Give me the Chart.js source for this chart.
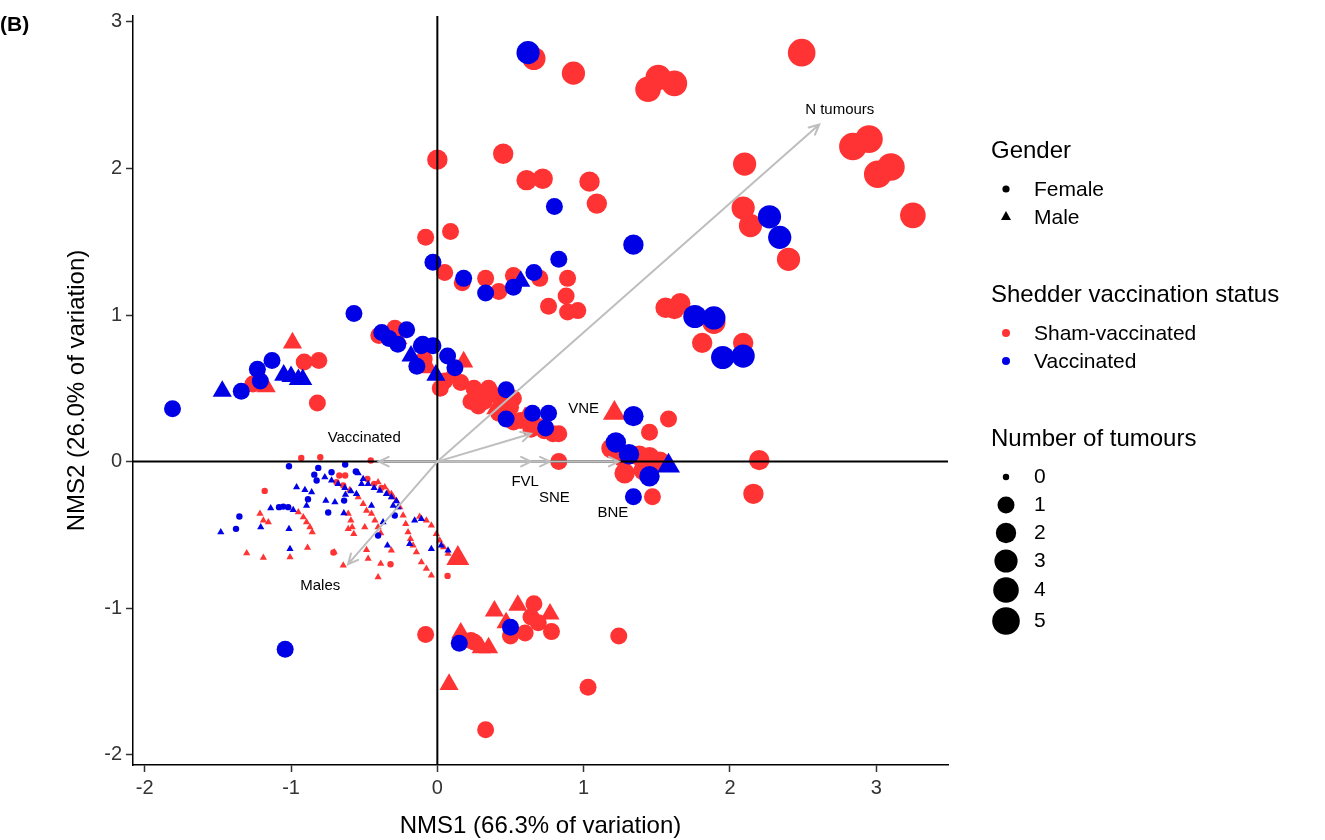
<!DOCTYPE html>
<html lang="en">
<head>
<meta charset="UTF-8" />
<title>NMS ordination (B)</title>
<script src="https://cdn.jsdelivr.net/npm/chart.js"></script>
<style>
  body { margin:0; background:#fff; }
  #wrap { position:relative; width:1325px; height:840px; }
</style>
</head>
<body>
<div id="wrap"><canvas id="nms" width="1325" height="840"></canvas></div>
<script>
  // [NMS1, NMS2, number of tumours]
  const shamFemale = [
    [0.66,2.75,3],[0.93,2.65,3],[1.44,2.54,4],[1.51,2.62,4],[1.62,2.58,4],[2.49,2.79,5],
    [2.84,2.15,5],[2.95,2.20,5],[3.01,1.96,5],[3.10,2.01,5],[3.25,1.68,4],[2.10,2.03,3],
    [2.09,1.73,3],[2.14,1.61,3],[2.40,1.38,3],[0.00,2.06,2],[0.45,2.10,2],[0.61,1.92,2],
    [0.72,1.93,2],[1.04,1.91,2],[1.09,1.76,2],[-0.08,1.53,1],[0.09,1.57,1],
    [0.05,1.29,1],[0.17,1.22,1],[0.33,1.25,1],[0.42,1.16,1],[0.52,1.27,1],[0.70,1.25,1],
    [0.89,1.25,1],[0.88,1.13,1],[0.76,1.06,1],[0.89,1.02,1],[0.96,1.03,1],
    [1.56,1.05,2],[1.62,1.04,2],[1.66,1.08,2],[1.89,0.95,3],[1.81,0.81,2],[2.09,0.81,2],
    [2.20,0.01,2],[2.16,-0.22,2],
    [1.58,0.29,1],[1.45,0.20,1],[1.19,0.09,2],[1.27,0.03,2],[1.38,0.04,2],[1.45,0.03,2],
    [1.28,-0.08,2],[1.41,-0.06,2],[1.47,-0.24,1],[0.83,0.00,1],[1.52,0.00,2],
    [-0.91,0.68,1],[-0.81,0.69,1],[-1.26,0.53,1],[-0.82,0.40,1],
    [-0.40,0.86,1],[-0.29,0.91,1],[-0.09,0.70,1],[0.05,0.55,1],[0.16,0.54,1],[0.25,0.50,1],
    [0.35,0.50,1],[0.23,0.41,1],[0.32,0.41,1],[0.44,0.43,1],[0.52,0.43,1],[0.50,0.37,1],
    [0.42,0.33,1],[0.57,0.28,1],[0.52,0.27,1],[0.69,0.24,1],[0.79,0.19,1],[0.83,0.19,1],
    [0.64,0.22,1],[0.73,0.21,1],[0.02,0.50,1],[0.38,0.46,1],[0.28,0.38,1],
    [0.66,-0.97,1],[0.64,-1.06,1],[0.69,-1.10,1],[0.50,-1.19,1],[0.60,-1.17,1],[0.78,-1.16,1],
    [0.25,-1.23,1],[1.24,-1.19,1],[1.03,-1.54,1],[0.33,-1.83,1],[-0.08,-1.18,1],[0.23,-1.22,1],
    [-0.93,0.025,0],[-0.80,0.03,0],[-0.455,0.007,0],[-1.18,-0.20,0],[-0.67,-0.095,0],[-0.63,-0.095,0],
    [-0.71,-0.62,0],[-0.32,-0.70,0],[0.07,-0.78,0],[-0.478,-0.118,0],[-0.432,-0.152,0],
    [-0.382,-0.179,0],[-0.689,-0.141,0],[-0.643,-0.163,0]
  ];
  const shamMale = [
    [1.21,0.33,2],[-0.99,0.81,1],[-1.17,0.51,1],[-0.27,0.84,1],[-0.06,0.64,1],[0.18,0.68,1],
    [0.10,0.60,1],[0.30,0.45,1],[0.40,0.36,1],[0.60,0.30,1],
    [0.39,-1.02,1],[0.55,-0.98,1],[0.77,-1.04,1],[0.47,-1.10,1],[0.30,-1.27,1],[0.35,-1.27,1],
    [0.16,-1.17,1],[0.08,-1.52,1],[0.14,-0.66,2],
    [-0.405,-0.141,0],[-0.359,-0.175,0],[-0.314,-0.220,0],[-0.280,-0.266,0],[-0.257,-0.311,0],
    [-0.234,-0.368,0],[-0.216,-0.425,0],[-0.200,-0.481,0],[-0.184,-0.527,0],[-0.166,-0.572,0],
    [-0.143,-0.618,0],[-0.109,-0.686,0],[-0.075,-0.731,0],[-0.041,-0.777,0],
    [-0.121,-0.375,0],[-0.075,-0.402,0],[-0.041,-0.436,0],[-0.007,-0.493,0],[0.016,-0.538,0],
    [0.043,-0.584,0],[0.073,-0.629,0],[0.107,-0.674,0],
    [-0.337,-0.209,0],[-0.302,-0.243,0],[-0.450,-0.356,0],[-0.427,-0.402,0],[-0.405,-0.447,0],
    [-0.387,-0.488,0],
    [-0.598,-0.193,0],[-0.541,-0.243,0],[-0.507,-0.288,0],[-0.484,-0.334,0],
    [-0.609,-0.356,0],[-0.591,-0.402,0],[-0.582,-0.447,0],[-0.571,-0.493,0],
    [-0.950,-0.345,0],[-0.916,-0.379,0],[-0.894,-0.413,0],[-0.871,-0.447,0],[-0.855,-0.481,0],
    [-1.212,-0.356,0],[-1.189,-0.402,0],[-1.155,-0.413,0],
    [-1.303,-0.624,0],[-1.189,-0.656,0],[-1.007,-0.652,0],[-0.887,-0.588,0],[-0.705,-0.618,0],
    [-0.643,-0.708,0],[-0.484,-0.602,0],[-0.473,-0.663,0],[-0.405,-0.788,0],[-0.387,-0.697,0],
    [-0.496,-0.447,0],[-0.609,-0.459,0],[-0.314,-0.606,0]
  ];
  const vaccFemale = [
    [0.62,2.79,3],[2.27,1.67,3],[2.34,1.53,3],[0.80,1.74,1],[1.34,1.48,2],[-0.03,1.36,1],
    [0.18,1.25,1],[0.33,1.15,1],[0.52,1.19,1],[0.66,1.29,1],[0.83,1.38,1],
    [1.76,0.99,3],[1.89,0.98,3],[1.95,0.71,3],[2.09,0.72,3],
    [1.34,0.31,2],[1.22,0.13,2],[1.31,0.05,2],[1.45,-0.10,2],[1.34,-0.24,1],
    [-0.57,1.01,1],[-1.13,0.69,1],[-1.23,0.63,1],[-1.21,0.55,1],[-1.34,0.48,1],[-1.81,0.36,1],
    [-0.38,0.88,1],[-0.21,0.90,1],[-0.33,0.84,1],[-0.27,0.80,1],[-0.11,0.79,1],[-0.14,0.65,1],
    [-0.10,0.80,1],[-0.03,0.79,1],[0.07,0.72,1],[0.12,0.64,1],[0.47,0.49,1],[0.65,0.33,1],
    [0.76,0.33,1],[0.47,0.29,1],[0.74,0.23,1],
    [0.50,-1.13,1],[-1.04,-1.28,1],[0.15,-1.24,1],
    [-1.014,-0.032,0],[-0.814,-0.043,0],[-0.630,-0.020,0],[-0.841,-0.089,0],[-0.723,-0.073,0],
    [-0.557,-0.068,0],[-0.825,-0.129,0],[-1.353,-0.375,0],[-1.376,-0.459,0],[-0.884,-0.257,0],
    [-0.746,-0.347,0],[-0.637,-0.266,0],[-0.405,-0.504,0],[-0.291,-0.368,0],[-1.082,-0.311,0],
    [-1.053,-0.307,0],[-1.019,-0.311,0]
  ];
  const vaccMale = [
    [0.57,1.23,1],[1.58,-0.03,2],[-1.05,0.59,1],[-1.00,0.58,1],[-0.95,0.56,1],[-0.92,0.56,1],
    [-1.47,0.48,1],[-0.18,0.72,1],[-0.01,0.59,1],
    [-1.48,-0.481,0],[-1.207,-0.447,0],[-1.139,-0.318,0],[-1.014,-0.459,0],[-1.007,-0.595,0],
    [-0.962,-0.175,0],[-0.905,-0.193,0],[-0.859,-0.209,0],[-0.894,-0.300,0],[-0.762,-0.266,0],
    [-0.639,-0.352,0],[-0.628,-0.225,0],[-0.985,-0.329,0],
    [-0.769,-0.107,0],[-0.723,-0.129,0],[-0.678,-0.152,0],[-0.632,-0.180,0],[-0.591,-0.202,0],
    [-0.553,-0.220,0],
    [-0.541,-0.079,0],[-0.507,-0.118,0],[-0.473,-0.152,0],[-0.432,-0.179,0],[-0.393,-0.198,0],
    [-0.348,-0.220,0],[-0.314,-0.243,0],[-0.280,-0.270,0],
    [-0.341,-0.572,0],[-0.189,-0.561,0],[-0.041,-0.595,0],[-0.155,-0.402,0],[-0.109,-0.391,0],
    [0.027,-0.572,0],[0.073,-0.606,0],[-0.302,-0.300,0],[-0.268,-0.311,0],[-0.450,-0.300,0],
    [-0.518,-0.152,0],[-0.700,-0.277,0],[-0.371,-0.413,0]
  ];

  // fitted vectors: [label, NMS1 tip, NMS2 tip, label NMS1, label NMS2]
  const vectors = [
    ['N tumours', 2.61, 2.30, 2.75, 2.40],
    ['VNE', 0.64, 0.19, 1.00, 0.36],
    ['FVL', 0.64, 0.00, 0.60, -0.14],
    ['SNE', 0.77, 0.00, 0.80, -0.245],
    ['BNE', 1.24, 0.00, 1.20, -0.35],
    ['Vaccinated', -0.40, 0.00, -0.50, 0.16],
    ['Males', -0.61, -0.70, -0.80, -0.85]
  ];

  const xTicks = [-2, -1, 0, 1, 2, 3];
  const yTicks = [-2, -1, 0, 1, 2, 3];
  const tumourLevels = [0, 1, 2, 3, 4, 5];
  const sizeByCount = [3.2, 8.5, 10.2, 11.6, 12.8, 13.8];

  const RED = '#FF3333', BLUE = '#0000E6', ARROW = '#BEBEBE';
  const FONT = "'Liberation Sans', Arial, sans-serif";

  function makeSet(rows, color, tri) {
    const r = c => {
      const p = c.raw;
      const base = p ? sizeByCount[p.n] : 3;
      return tri ? base * 1.3 : base;
    };
    return {
      data: rows.map(d => ({ x: d[0], y: d[1], n: d[2] })),
      backgroundColor: color, borderWidth: 0,
      pointStyle: tri ? 'triangle' : 'circle',
      pointRadius: r, pointHoverRadius: r
    };
  }

  function arrow(ctx, x0, y0, x1, y1) {
    const a = Math.atan2(y1 - y0, x1 - x0), h = 11, s = 0.45;
    ctx.beginPath();
    ctx.moveTo(x0, y0); ctx.lineTo(x1, y1);
    ctx.moveTo(x1 - h * Math.cos(a - s), y1 - h * Math.sin(a - s));
    ctx.lineTo(x1, y1);
    ctx.lineTo(x1 - h * Math.cos(a + s), y1 - h * Math.sin(a + s));
    ctx.stroke();
  }

  const decor = {
    id: 'decor',
    afterDatasetsDraw(chart) {
      const { ctx, chartArea: ca, scales: { x, y } } = chart;
      const ox = x.getPixelForValue(0), oy = y.getPixelForValue(0);
      ctx.save();
      ctx.strokeStyle = '#000'; ctx.lineWidth = 2;
      ctx.beginPath();
      ctx.moveTo(ca.left, oy); ctx.lineTo(ca.right, oy);
      ctx.moveTo(ox, ca.top); ctx.lineTo(ox, ca.bottom);
      ctx.stroke();

      ctx.strokeStyle = ARROW; ctx.lineWidth = 2; ctx.lineCap = 'round';
      ctx.fillStyle = '#000'; ctx.font = '15px ' + FONT;
      ctx.textAlign = 'center'; ctx.textBaseline = 'middle';
      vectors.forEach(v => {
        arrow(ctx, ox, oy, x.getPixelForValue(v[1]), y.getPixelForValue(v[2]));
      });
      vectors.forEach(v => {
        ctx.fillText(v[0], x.getPixelForValue(v[3]), y.getPixelForValue(v[4]));
      });
      ctx.restore();
    },
    afterDraw(chart) {
      const { ctx, chartArea: ca } = chart;
      ctx.save();
      ctx.fillStyle = '#000';
      ctx.textBaseline = 'middle';
      // panel tag
      ctx.font = 'bold 21px ' + FONT; ctx.textAlign = 'left';
      ctx.fillText('(B)', 0, 25);
      // axis titles
      ctx.font = '24px ' + FONT; ctx.textAlign = 'center';
      ctx.fillText('NMS1 (66.3% of variation)', (ca.left + ca.right) / 2, 826);
      ctx.save();
      ctx.translate(77, (ca.top + ca.bottom) / 2);
      ctx.rotate(-Math.PI / 2);
      ctx.fillText('NMS2 (26.0% of variation)', 0, 0);
      ctx.restore();

      // legend
      const lx = 991, kx = 1006, tx = 1034;
      ctx.textAlign = 'left';
      ctx.font = '24px ' + FONT;
      ctx.fillText('Gender', lx, 151);
      ctx.fillText('Shedder vaccination status', lx, 295);
      ctx.font = '24px ' + FONT;
      ctx.fillText('Number of tumours', lx, 439);
      ctx.font = '21px ' + FONT;
      ctx.fillText('Female', tx, 190);
      ctx.fillText('Male', tx, 218);
      ctx.fillText('Sham-vaccinated', tx, 334);
      ctx.fillText('Vaccinated', tx, 362);
      const ty = [477, 505, 533, 561, 590, 621];
      tumourLevels.forEach((n, i) => ctx.fillText(String(n), tx, ty[i]));

      ctx.fillStyle = '#000';
      ctx.beginPath(); ctx.arc(kx, 189, 3.6, 0, Math.PI * 2); ctx.fill();
      ctx.beginPath();
      ctx.moveTo(kx, 211); ctx.lineTo(kx + 5, 220); ctx.lineTo(kx - 5, 220); ctx.closePath(); ctx.fill();
      ctx.fillStyle = RED;
      ctx.beginPath(); ctx.arc(kx, 333, 4, 0, Math.PI * 2); ctx.fill();
      ctx.fillStyle = BLUE;
      ctx.beginPath(); ctx.arc(kx, 361, 4, 0, Math.PI * 2); ctx.fill();
      ctx.fillStyle = '#000';
      tumourLevels.forEach((n, i) => {
        ctx.beginPath(); ctx.arc(kx, ty[i], sizeByCount[n], 0, Math.PI * 2); ctx.fill();
      });
      ctx.restore();
    }
  };

  const axisCommon = {
    type: 'linear',
    ticks: { color: '#333', font: { size: 20, family: FONT }, padding: 4 },
    grid: { drawOnChartArea: false, drawTicks: true, tickLength: 7, tickColor: '#333', tickWidth: 1.5 },
    border: { display: true, color: '#000', width: 1.5 }
  };

  new Chart(document.getElementById('nms'), {
    type: 'scatter',
    data: {
      datasets: [
        makeSet(vaccMale, BLUE, true),
        makeSet(vaccFemale, BLUE, false),
        makeSet(shamMale, RED, true),
        makeSet(shamFemale, RED, false)
      ]
    },
    options: {
      responsive: false, animation: false, devicePixelRatio: 1,
      layout: { padding: { left: 0, top: 15, right: 377, bottom: 0 } },
      plugins: { legend: { display: false }, tooltip: { enabled: false } },
      scales: {
        x: Object.assign({}, axisCommon, {
          min: -2.08, max: 3.49,
          afterBuildTicks: s => { s.ticks = xTicks.map(v => ({ value: v })); },
          afterFit: s => { s.height = 75; }
        }),
        y: Object.assign({}, axisCommon, {
          min: -2.07, max: 3.04,
          afterBuildTicks: s => { s.ticks = yTicks.map(v => ({ value: v })); },
          afterFit: s => { s.width = 133; }
        })
      }
    },
    plugins: [decor]
  });
</script>
</body>
</html>
